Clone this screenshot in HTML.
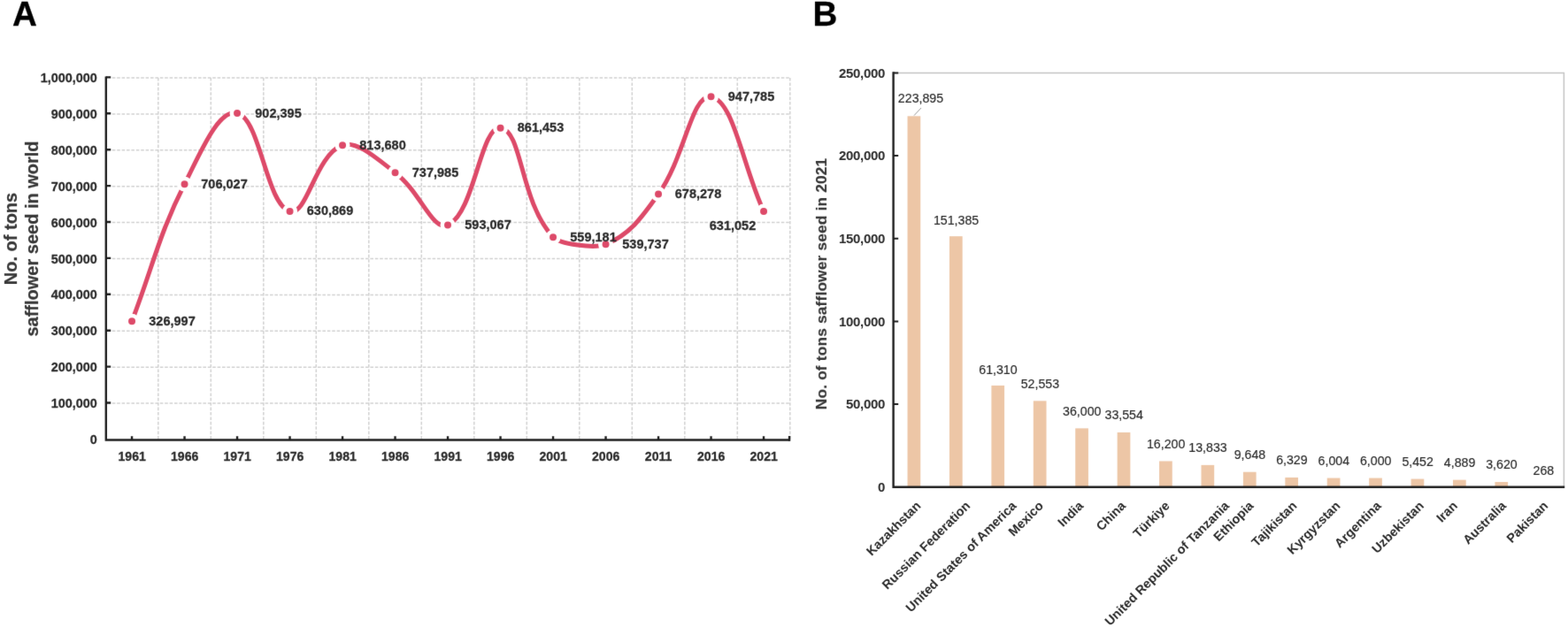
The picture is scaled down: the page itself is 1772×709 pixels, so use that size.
<!DOCTYPE html>
<html lang="en"><head><meta charset="utf-8"><title>Safflower seed production</title>
<style>
html,body{margin:0;padding:0;background:#fff;}
body{width:1772px;height:709px;overflow:hidden;font-family:"Liberation Sans", Arial, sans-serif;}
svg{display:block;}
</style></head><body>
<svg width="1772" height="709" viewBox="0 0 1772 709" font-family='"Liberation Sans", Arial, sans-serif'>
<defs><filter id="soft" x="0" y="0" width="100%" height="100%" filterUnits="objectBoundingBox" color-interpolation-filters="sRGB"><feConvolveMatrix order="3" kernelMatrix="1 12 1 12 144 12 1 12 1" divisor="196" edgeMode="duplicate" preserveAlpha="false"/></filter></defs>
<g filter="url(#soft)">
<rect width="1772" height="709" fill="#ffffff"/>
<g font-weight="700" fill="#000" font-size="38.6" stroke="#000" stroke-width="0.3">
<text transform="translate(14.00 29.40)">A</text>
<text transform="translate(918.60 29.40)">B</text>
</g>
<g stroke="#d2d2d2" stroke-width="1.5" stroke-dasharray="3.6 1.8" fill="none">
<line x1="126.8" y1="456.10" x2="893.30" y2="456.10"/>
<line x1="126.8" y1="415.20" x2="893.30" y2="415.20"/>
<line x1="126.8" y1="374.30" x2="893.30" y2="374.30"/>
<line x1="126.8" y1="333.40" x2="893.30" y2="333.40"/>
<line x1="126.8" y1="292.50" x2="893.30" y2="292.50"/>
<line x1="126.8" y1="251.60" x2="893.30" y2="251.60"/>
<line x1="126.8" y1="210.70" x2="893.30" y2="210.70"/>
<line x1="126.8" y1="169.80" x2="893.30" y2="169.80"/>
<line x1="126.8" y1="128.90" x2="893.30" y2="128.90"/>
<line x1="126.8" y1="88.00" x2="893.30" y2="88.00"/>
<line x1="178.80" y1="88.0" x2="178.80" y2="497.5"/>
<line x1="238.30" y1="88.0" x2="238.30" y2="497.5"/>
<line x1="297.80" y1="88.0" x2="297.80" y2="497.5"/>
<line x1="357.30" y1="88.0" x2="357.30" y2="497.5"/>
<line x1="416.80" y1="88.0" x2="416.80" y2="497.5"/>
<line x1="476.30" y1="88.0" x2="476.30" y2="497.5"/>
<line x1="535.80" y1="88.0" x2="535.80" y2="497.5"/>
<line x1="595.30" y1="88.0" x2="595.30" y2="497.5"/>
<line x1="654.80" y1="88.0" x2="654.80" y2="497.5"/>
<line x1="714.30" y1="88.0" x2="714.30" y2="497.5"/>
<line x1="773.80" y1="88.0" x2="773.80" y2="497.5"/>
<line x1="833.30" y1="88.0" x2="833.30" y2="497.5"/>
<line x1="892.80" y1="88.0" x2="892.80" y2="497.5"/>
</g>
<g stroke="#1f1f1f" fill="none">
<path d="M119.8 86.4 V497.5 H892.7" stroke-width="2.4"/>
<path d="M119.8 455.50h5.4M119.8 414.60h5.4M119.8 373.70h5.4M119.8 332.80h5.4M119.8 291.90h5.4M119.8 251.00h5.4M119.8 210.10h5.4M119.8 169.20h5.4M119.8 128.30h5.4M119.8 87.40h5.4M149.05 497.5v-4.2M208.55 497.5v-4.2M268.05 497.5v-4.2M327.55 497.5v-4.2M387.05 497.5v-4.2M446.55 497.5v-4.2M506.05 497.5v-4.2M565.55 497.5v-4.2M625.05 497.5v-4.2M684.55 497.5v-4.2M744.05 497.5v-4.2M803.55 497.5v-4.2M863.05 497.5v-4.2M892.10 498.7v-5.8" stroke-width="2.4"/>
</g>
<g font-weight="700" fill="#2a2a2a" stroke="#2a2a2a" stroke-width="0.25">
<g font-size="14.4" text-anchor="end">
<text transform="translate(109.70 502.00) scale(1 1.06)">0</text>
<text transform="translate(109.70 461.10) scale(1 1.06)">100,000</text>
<text transform="translate(109.70 420.20) scale(1 1.06)">200,000</text>
<text transform="translate(109.70 379.30) scale(1 1.06)">300,000</text>
<text transform="translate(109.70 338.40) scale(1 1.06)">400,000</text>
<text transform="translate(109.70 297.50) scale(1 1.06)">500,000</text>
<text transform="translate(109.70 256.60) scale(1 1.06)">600,000</text>
<text transform="translate(109.70 215.70) scale(1 1.06)">700,000</text>
<text transform="translate(109.70 174.80) scale(1 1.06)">800,000</text>
<text transform="translate(109.70 133.90) scale(1 1.06)">900,000</text>
<text transform="translate(109.70 93.00) scale(1 1.06)">1,000,000</text>
</g>
<g font-size="14.1" text-anchor="middle">
<text transform="translate(149.15 520.70) scale(1 1.06)">1961</text>
<text transform="translate(208.65 520.70) scale(1 1.06)">1966</text>
<text transform="translate(268.15 520.70) scale(1 1.06)">1971</text>
<text transform="translate(327.65 520.70) scale(1 1.06)">1976</text>
<text transform="translate(387.15 520.70) scale(1 1.06)">1981</text>
<text transform="translate(446.65 520.70) scale(1 1.06)">1986</text>
<text transform="translate(506.15 520.70) scale(1 1.06)">1991</text>
<text transform="translate(565.65 520.70) scale(1 1.06)">1996</text>
<text transform="translate(625.15 520.70) scale(1 1.06)">2001</text>
<text transform="translate(684.65 520.70) scale(1 1.06)">2006</text>
<text transform="translate(744.15 520.70) scale(1 1.06)">2011</text>
<text transform="translate(803.65 520.70) scale(1 1.06)">2016</text>
<text transform="translate(863.15 520.70) scale(1 1.06)">2021</text>
</g>
</g>
<g font-size="20" font-weight="700" fill="#383838" stroke="#383838" stroke-width="0.25" text-anchor="middle">
<text transform="translate(19.20 270.00) rotate(-90)">No. of tons</text>
<text transform="translate(43.20 270.00) rotate(-90)">safflower seed in world</text>
</g>
<path d="M149.05 363.26 C172.85 301.25 178.84 267.00 208.55 208.23 C226.44 172.86 246.99 122.48 268.05 127.92 C294.59 134.78 300.48 230.72 327.55 238.97 C347.15 244.95 356.01 175.63 387.05 164.20 C403.61 158.11 427.84 180.98 446.55 195.16 C475.44 217.07 488.52 261.88 506.05 254.44 C536.12 241.68 543.08 142.05 565.55 144.67 C590.68 147.59 586.73 225.92 625.05 268.29 C631.99 275.97 672.05 281.36 684.55 276.25 C712.05 264.99 725.19 246.03 744.05 219.58 C774.55 176.81 781.56 105.79 803.55 109.36 C828.89 113.47 839.25 187.08 863.05 238.90" fill="none" stroke="#dd4a69" stroke-width="5" stroke-linecap="round" stroke-linejoin="round"/>
<g fill="#dd4a69" stroke="#ffffff" stroke-width="4.5">
<circle cx="149.05" cy="363.26" r="6.25"/>
<circle cx="208.55" cy="208.23" r="6.25"/>
<circle cx="268.05" cy="127.92" r="6.25"/>
<circle cx="327.55" cy="238.97" r="6.25"/>
<circle cx="387.05" cy="164.20" r="6.25"/>
<circle cx="446.55" cy="195.16" r="6.25"/>
<circle cx="506.05" cy="254.44" r="6.25"/>
<circle cx="565.55" cy="144.67" r="6.25"/>
<circle cx="625.05" cy="268.29" r="6.25"/>
<circle cx="684.55" cy="276.25" r="6.25"/>
<circle cx="744.05" cy="219.58" r="6.25"/>
<circle cx="803.55" cy="109.36" r="6.25"/>
<circle cx="863.05" cy="238.90" r="6.25"/>
</g>
<g font-size="14.5" font-weight="700" fill="#2a2a2a" stroke="#2a2a2a" stroke-width="0.25">
<text transform="translate(168.30 367.80) scale(1 1.06)">326,997</text>
<text transform="translate(227.30 213.30) scale(1 1.06)">706,027</text>
<text transform="translate(288.30 132.80) scale(1 1.06)">902,395</text>
<text transform="translate(346.80 243.30) scale(1 1.06)">630,869</text>
<text transform="translate(406.30 168.80) scale(1 1.06)">813,680</text>
<text transform="translate(465.80 199.80) scale(1 1.06)">737,985</text>
<text transform="translate(525.30 259.30) scale(1 1.06)">593,067</text>
<text transform="translate(584.80 149.30) scale(1 1.06)">861,453</text>
<text transform="translate(644.30 272.80) scale(1 1.06)">559,181</text>
<text transform="translate(703.30 280.80) scale(1 1.06)">539,737</text>
<text transform="translate(762.80 224.30) scale(1 1.06)">678,278</text>
<text transform="translate(822.80 113.80) scale(1 1.06)">947,785</text>
<text transform="translate(801.80 260.30) scale(1 1.06)">631,052</text>
</g>
<path d="M1009.6 82.4 H1767.4 V550.8" fill="none" stroke="#c4c4c4" stroke-width="1.5"/>
<g fill="#edc6a6">
<rect x="1025.55" y="131.31" width="14.7" height="419.49"/>
<rect x="1072.97" y="267.17" width="14.7" height="283.63"/>
<rect x="1120.39" y="435.93" width="14.7" height="114.87"/>
<rect x="1167.81" y="453.34" width="14.7" height="97.46"/>
<rect x="1215.23" y="484.35" width="14.7" height="66.45"/>
<rect x="1262.65" y="488.93" width="14.7" height="61.87"/>
<rect x="1310.07" y="521.45" width="14.7" height="29.35"/>
<rect x="1357.49" y="525.88" width="14.7" height="24.92"/>
<rect x="1404.91" y="533.72" width="14.7" height="17.08"/>
<rect x="1452.33" y="539.94" width="14.7" height="10.86"/>
<rect x="1499.75" y="540.55" width="14.7" height="10.25"/>
<rect x="1547.17" y="540.56" width="14.7" height="10.24"/>
<rect x="1594.59" y="541.59" width="14.7" height="9.21"/>
<rect x="1642.01" y="542.64" width="14.7" height="8.16"/>
<rect x="1689.43" y="545.02" width="14.7" height="5.78"/>
<rect x="1736.85" y="551.30" width="14.7" height="-0.50"/>
</g>
<g stroke="#1f1f1f" fill="none">
<path d="M1009.6 81.2 V550.8 H1768.2" stroke-width="2.4"/>
<path d="M1009.6 457.12h5.6M1009.6 363.44h5.6M1009.6 269.76h5.6M1009.6 176.08h5.6M1009.6 82.40h5.6" stroke-width="2"/>
</g>
<g font-size="15" font-weight="700" fill="#2a2a2a" text-anchor="end" letter-spacing="-0.33">
<text transform="translate(1000.00 556.10)">0</text>
<text transform="translate(1000.00 462.42)">50,000</text>
<text transform="translate(1000.00 368.74)">100,000</text>
<text transform="translate(1000.00 275.06)">150,000</text>
<text transform="translate(1000.00 181.38)">200,000</text>
<text transform="translate(1000.00 87.70)">250,000</text>
</g>
<g font-weight="700" fill="#383838" stroke="#383838" stroke-width="0.15" text-anchor="middle">
<text transform="translate(934.30 321.00) rotate(-90)" font-size="17.3" textLength="284.4" lengthAdjust="spacing">No. of tons safflower seed in 2021</text>
</g>
<g font-size="14.2" fill="#2a2a2a" stroke="#2a2a2a" stroke-width="0.15" text-anchor="middle">
<text transform="translate(1040.50 116.10)">223,895</text>
<text transform="translate(1080.52 254.17)">151,385</text>
<text transform="translate(1127.94 422.93)">61,310</text>
<text transform="translate(1175.36 438.54)">52,553</text>
<text transform="translate(1222.78 469.55)">36,000</text>
<text transform="translate(1270.20 474.13)">33,554</text>
<text transform="translate(1317.62 506.65)">16,200</text>
<text transform="translate(1365.04 511.08)">13,833</text>
<text transform="translate(1412.46 518.92)">9,648</text>
<text transform="translate(1459.88 525.14)">6,329</text>
<text transform="translate(1507.30 525.75)">6,004</text>
<text transform="translate(1554.72 525.76)">6,000</text>
<text transform="translate(1602.14 526.79)">5,452</text>
<text transform="translate(1649.56 527.84)">4,889</text>
<text transform="translate(1696.98 530.22)">3,620</text>
<text transform="translate(1744.40 536.50)">268</text>
</g>
<line x1="1033" y1="130.6" x2="1041" y2="122" stroke="#9a9a9a" stroke-width="1"/>
<g font-size="14.4" font-weight="700" fill="#2a2a2a" text-anchor="end">
<text transform="translate(1041.50 572.80) rotate(-45)">Kazakhstan</text>
<text transform="translate(1097.30 572.80) rotate(-45)">Russian Federation</text>
<text transform="translate(1149.50 572.80) rotate(-45)">United States of America</text>
<text transform="translate(1180.00 572.80) rotate(-45)">Mexico</text>
<text transform="translate(1225.10 572.80) rotate(-45)">India</text>
<text transform="translate(1272.95 572.80) rotate(-45)">China</text>
<text transform="translate(1322.70 572.80) rotate(-45)">Türkiye</text>
<text transform="translate(1390.00 572.80) rotate(-45)">United Republic of Tanzania</text>
<text transform="translate(1417.50 572.80) rotate(-45)">Ethiopia</text>
<text transform="translate(1466.40 572.80) rotate(-45)">Tajikistan</text>
<text transform="translate(1515.45 572.80) rotate(-45)">Kyrgyzstan</text>
<text transform="translate(1561.60 572.80) rotate(-45)">Argentina</text>
<text transform="translate(1610.00 572.80) rotate(-45)">Uzbekistan</text>
<text transform="translate(1647.90 572.80) rotate(-45)">Iran</text>
<text transform="translate(1702.80 572.80) rotate(-45)">Australia</text>
<text transform="translate(1750.30 572.80) rotate(-45)">Pakistan</text>
</g>
</g>
</svg>
</body></html>
